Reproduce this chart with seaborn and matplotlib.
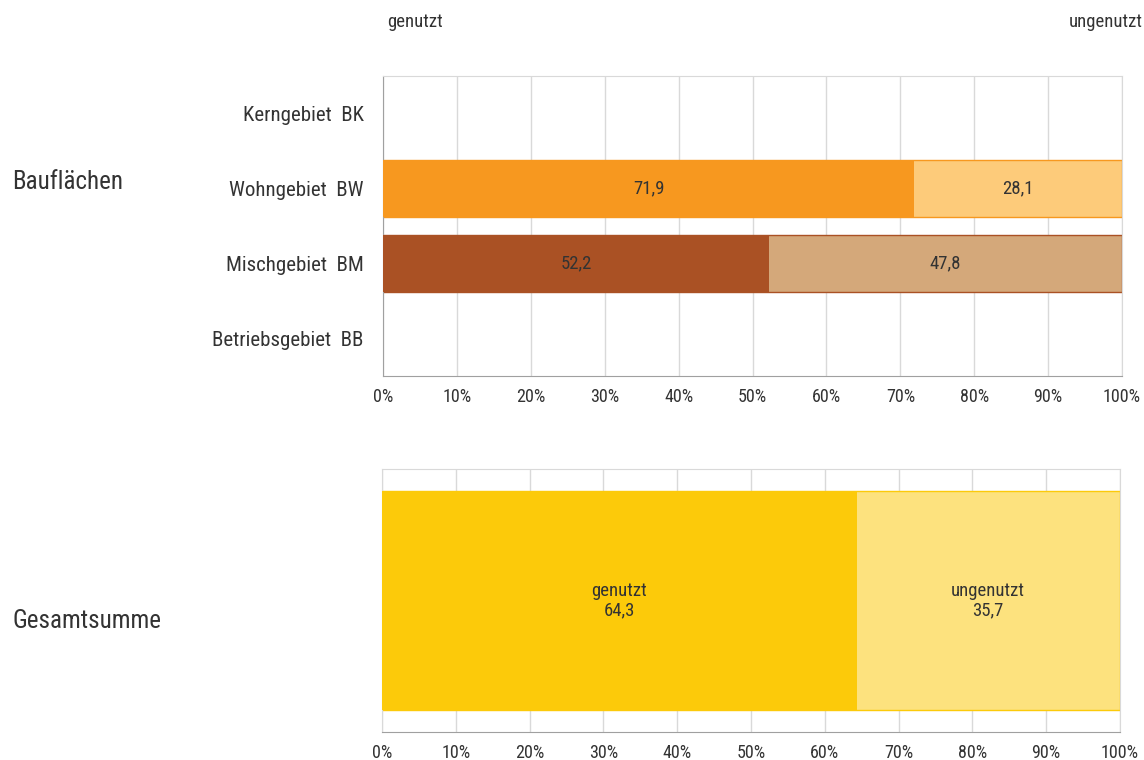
import numpy as np
import pandas as pd
import matplotlib.pyplot as plt
import seaborn as sns
from matplotlib.ticker import FixedLocator
from matplotlib import font_manager

categories = ['Kerngebiet  BK', 'Wohngebiet  BW', 'Mischgebiet  BM', 'Betriebsgebiet  BB']
genutzt = [np.nan, 71.9, 52.2, np.nan]
ungenutzt = [np.nan, 28.1, 47.8, np.nan]

gesamt_genutzt = 64.3
gesamt_ungenutzt = 35.7

col_gen = {'Kerngebiet  BK': '#F7981F', 'Wohngebiet  BW': '#F7981F',
           'Mischgebiet  BM': '#AA5124', 'Betriebsgebiet  BB': '#AA5124'}
col_ungen = {'Kerngebiet  BK': '#FDCB7A', 'Wohngebiet  BW': '#FDCB7A',
             'Mischgebiet  BM': '#D4A87A', 'Betriebsgebiet  BB': '#D4A87A'}
col_edge = ['#F7981F', '#F7981F', '#AA5124', '#AA5124']

sns.set_style('white')
names = {f.name for f in font_manager.fontManager.ttflist}
fam = [n for n in ['Liberation Sans Narrow', 'Roboto Condensed', 'DejaVu Sans Condensed',
                   'Liberation Sans'] if n in names] + ['DejaVu Sans']
plt.rcParams['font.family'] = fam

df = pd.DataFrame({'kat': categories, 'genutzt': genutzt, 'ungenutzt': ungenutzt})
df['total'] = df['genutzt'] + df['ungenutzt']

fig = plt.figure(figsize=(11.44, 7.6), dpi=100)
ax1 = fig.add_axes([0.3348, 0.5053, 0.646, 0.3947])
ax2 = fig.add_axes([0.3339, 0.0368, 0.6451, 0.3461])

grid_c = '#D9D9D9'
axis_c = '#A0A0A0'
text_c = '#333333'

# top chart: full bar (ungenutzt) drawn first, genutzt on top
sns.barplot(data=df, y='kat', x='total', hue='kat', palette=col_ungen, orient='h',
            width=0.76, legend=False, ax=ax1, zorder=2, saturation=1)
for p in ax1.patches:
    yc = int(round(p.get_y() + p.get_height() / 2))
    p.set_edgecolor(col_edge[yc])
    p.set_linewidth(1)
n_first = len(ax1.patches)
sns.barplot(data=df, y='kat', x='genutzt', hue='kat', palette=col_gen, orient='h',
            width=0.76, legend=False, ax=ax1, zorder=3, saturation=1)
for p in ax1.patches[n_first:]:
    p.set_linewidth(0)

for i, (g, u) in enumerate(zip(genutzt, ungenutzt)):
    if np.isnan(g):
        continue
    ax1.text(g / 2, i, f'{g:.1f}'.replace('.', ','), ha='center', va='center',
             fontsize=13.5, color=text_c, zorder=5)
    ax1.text(g + u / 2, i, f'{u:.1f}'.replace('.', ','), ha='center', va='center',
             fontsize=13.5, color=text_c, zorder=5)

ax1.set_xlim(0, 100)
ax1.set_ylim(3.5, -0.5)
ax1.set_xlabel('')
ax1.set_ylabel('')
ax1.set_xticks(np.arange(0, 101, 10))
ax1.set_xticklabels([f'{v}%' for v in range(0, 101, 10)])
ax1.yaxis.set_minor_locator(FixedLocator([-0.5, 0.5, 1.5, 2.5, 3.5]))
ax1.tick_params(axis='y', which='major', length=0, labelsize=15, labelcolor=text_c, pad=14)
ax1.tick_params(axis='y', which='minor', length=6, color=axis_c, width=1, direction='out')
ax1.tick_params(axis='x', length=5, color=axis_c, labelsize=13, labelcolor=text_c, direction='out')
ax1.grid(axis='x', color=grid_c, linewidth=1, zorder=0)
ax1.set_axisbelow(True)
for s in ['top', 'right']:
    ax1.spines[s].set_color(grid_c)
for s in ['left', 'bottom']:
    ax1.spines[s].set_color(axis_c)

# bottom chart
gdf = pd.DataFrame({'kat': ['Gesamtsumme'], 'genutzt': [gesamt_genutzt],
                    'total': [gesamt_genutzt + gesamt_ungenutzt]})
sns.barplot(data=gdf, y='kat', x='total', color='#FDE27E', orient='h', width=0.83,
            ax=ax2, zorder=2, edgecolor='#FCCA0A', linewidth=1, saturation=1)
sns.barplot(data=gdf, y='kat', x='genutzt', color='#FCCA0A', orient='h', width=0.83,
            ax=ax2, zorder=3, linewidth=0, saturation=1)
ax2.text(gesamt_genutzt / 2, 0, 'genutzt\n' + f'{gesamt_genutzt:.1f}'.replace('.', ','),
         ha='center', va='center', fontsize=13.5, color=text_c, linespacing=1.1, zorder=5)
ax2.text(gesamt_genutzt + gesamt_ungenutzt / 2, 0,
         'ungenutzt\n' + f'{gesamt_ungenutzt:.1f}'.replace('.', ','),
         ha='center', va='center', fontsize=13.5, color=text_c, linespacing=1.1, zorder=5)
ax2.set_xlim(0, 100)
ax2.set_ylim(0.5, -0.5)
ax2.set_xlabel('')
ax2.set_ylabel('')
ax2.set_yticks([])
ax2.set_xticks(np.arange(0, 101, 10))
ax2.set_xticklabels([f'{v}%' for v in range(0, 101, 10)])
ax2.tick_params(axis='x', length=5, color=axis_c, labelsize=13, labelcolor=text_c, direction='out')
ax2.grid(axis='x', color=grid_c, linewidth=1, zorder=0)
ax2.set_axisbelow(True)
for s in ['top', 'right', 'left']:
    ax2.spines[s].set_color(grid_c)
ax2.spines['bottom'].set_color(axis_c)

# free texts
fig.text(387 / 1144, 1 - 22 / 760, 'genutzt', ha='left', va='center', fontsize=13.5, color=text_c)
fig.text(1143 / 1144, 1 - 22 / 760, 'ungenutzt', ha='right', va='center', fontsize=13.5, color=text_c)
fig.text(12 / 1144, 1 - 182 / 760, 'Bauflächen', ha='left', va='center', fontsize=18, color=text_c)
fig.text(12 / 1144, 1 - 621 / 760, 'Gesamtsumme', ha='left', va='center', fontsize=18, color=text_c)

fig.savefig('out.png', dpi=100)
